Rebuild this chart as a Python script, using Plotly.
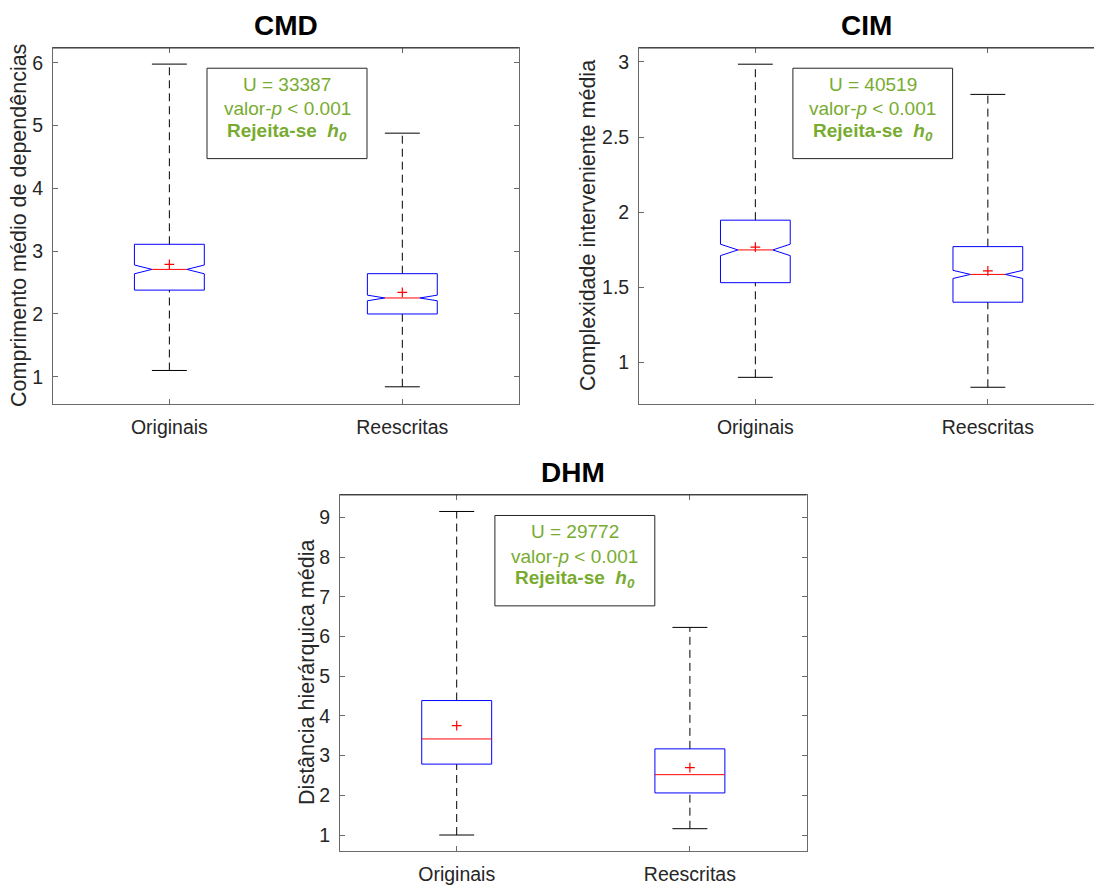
import plotly.graph_objects as go

# ---------------- data ----------------
categories = ["Originais", "Reescritas"]
panel_titles = ["CMD", "CIM", "DHM"]
y_labels = ["Comprimento médio de dependências",
            "Complexidade interveniente média",
            "Distância hierárquica média"]
u_stats = [33387, 40519, 29772]

cmd_whisker_hi = [5.98, 4.88]
cmd_q3 = [3.11, 2.642]
cmd_median = [2.71, 2.255]
cmd_q1 = [2.38, 2.00]
cmd_whisker_lo = [1.10, 0.84]
cmd_mean = [2.79, 2.345]
cmd_notch = [0.07, 0.045]

cim_whisker_hi = [2.985, 2.784]
cim_q3 = [1.947, 1.771]
cim_median = [1.749, 1.586]
cim_q1 = [1.531, 1.401]
cim_whisker_lo = [0.901, 0.835]
cim_mean = [1.767, 1.610]
cim_notch = [0.038, 0.027]

dhm_whisker_hi = [9.15, 6.23]
dhm_q3 = [4.387, 3.17]
dhm_median = [3.42, 2.52]
dhm_q1 = [2.786, 2.06]
dhm_whisker_lo = [1.00, 1.159]
dhm_mean = [3.753, 2.695]
dhm_notch = [None, None]

cmd_ticks = [1, 2, 3, 4, 5, 6]
cim_ticks = [1, 1.5, 2, 2.5, 3]
dhm_ticks = [1, 2, 3, 4, 5, 6, 7, 8, 9]

panels = [
    dict(whi=cmd_whisker_hi, q3=cmd_q3, med=cmd_median, q1=cmd_q1, wlo=cmd_whisker_lo,
         mean=cmd_mean, notch=cmd_notch, ticks=cmd_ticks),
    dict(whi=cim_whisker_hi, q3=cim_q3, med=cim_median, q1=cim_q1, wlo=cim_whisker_lo,
         mean=cim_mean, notch=cim_notch, ticks=cim_ticks),
    dict(whi=dhm_whisker_hi, q3=dhm_q3, med=dhm_median, q1=dhm_q1, wlo=dhm_whisker_lo,
         mean=dhm_mean, notch=dhm_notch, ticks=dhm_ticks),
]

# ---------------- layout geometry (pixels) ----------------
W, H = 1094, 885
def px(x): return x / W
def py(y): return 1 - y / H

geom = [
    dict(l=52.9, r=518.8, t=48.3, b=406.7, xr=[0.5, 2.5], yr=[0.567, 6.237],
         box=(207, 367, 68.7, 159.7), ylab_x=19, mirror_y=True),
    dict(l=639.1, r=1094, t=48.3, b=406.7, xr=[0.5, 0.5 + (1094 - 639.1) / 232.5],
         yr=[0.724, 3.093], box=(792.9, 952.6, 68.7, 159.7), ylab_x=588, mirror_y=False),
    dict(l=340.1, r=806.5, t=498.3, b=856.7, xr=[0.5, 2.5], yr=[0.6, 9.567],
         box=(494.9, 654.8, 519, 610), ylab_x=307, mirror_y=True),
]

BOXW = 0.30
CAPW = 0.15
AX = "#262626"
AXLINE = "#6a6a6a"
GREEN = "#77AC30"
FONT = "Liberation Sans, Arial, Helvetica, sans-serif"

fig = go.Figure()
shapes = []
annotations = []

for i, (p, g) in enumerate(zip(panels, geom)):
    sfx = "" if i == 0 else str(i + 1)
    xa, ya = "x" + sfx, "y" + sfx
    for j, cat in enumerate(categories):
        xc = j + 1
        hw = BOXW / 2
        q1, q3, med = p["q1"][j], p["q3"][j], p["med"][j]
        n = p["notch"][j]
        if n is not None:
            bx = [xc - hw, xc + hw, xc + hw, xc + hw / 2, xc + hw, xc + hw,
                  xc - hw, xc - hw, xc - hw / 2, xc - hw, xc - hw]
            by = [q1, q1, med - n, med, med + n, q3, q3, med + n, med, med - n, q1]
            mx = [xc - hw / 2, xc + hw / 2]
        else:
            bx = [xc - hw, xc + hw, xc + hw, xc - hw, xc - hw]
            by = [q1, q1, q3, q3, q1]
            mx = [xc - hw, xc + hw]
        # whiskers (dashed)
        fig.add_trace(go.Scatter(x=[xc, xc, None, xc, xc],
                                 y=[q3, p["whi"][j], None, p["wlo"][j], q1],
                                 mode="lines", xaxis=xa, yaxis=ya,
                                 line=dict(color="black", width=1, dash="8px,5px"),
                                 hoverinfo="skip", showlegend=False))
        # caps
        fig.add_trace(go.Scatter(x=[xc - CAPW / 2, xc + CAPW / 2, None, xc - CAPW / 2, xc + CAPW / 2],
                                 y=[p["whi"][j], p["whi"][j], None, p["wlo"][j], p["wlo"][j]],
                                 mode="lines", xaxis=xa, yaxis=ya,
                                 line=dict(color="black", width=1),
                                 hoverinfo="skip", showlegend=False))
        # box
        fig.add_trace(go.Scatter(x=bx, y=by, mode="lines", xaxis=xa, yaxis=ya,
                                 line=dict(color="#0000FF", width=1),
                                 hoverinfo="skip", showlegend=False))
        # median
        fig.add_trace(go.Scatter(x=mx, y=[med, med], mode="lines", xaxis=xa, yaxis=ya,
                                 line=dict(color="#FF0000", width=1),
                                 hoverinfo="skip", showlegend=False))
        # mean
        fig.add_trace(go.Scatter(x=[xc], y=[p["mean"][j]], mode="markers", xaxis=xa, yaxis=ya,
                                 marker=dict(symbol="cross-thin", size=7,
                                             line=dict(color="#FF0000", width=1.2)),
                                 hoverinfo="skip", showlegend=False))

    common = dict(showline=True, linecolor=AXLINE, linewidth=1, ticks="inside", ticklen=5,
                  tickcolor=AXLINE, tickwidth=1, showgrid=False, zeroline=False,
                  tickfont=dict(family=FONT, size=19.5, color=AX))
    fig.layout["xaxis" + sfx] = dict(
        domain=[px(g["l"]), px(g["r"])], range=g["xr"], anchor=ya,
        tickvals=[1, 2], ticktext=categories, mirror="ticks", ticklabelstandoff=6, **common)
    fig.layout["yaxis" + sfx] = dict(
        domain=[py(g["b"]), py(g["t"])], range=g["yr"], anchor=xa,
        tickvals=p["ticks"], ticktext=[f"{t:g}" for t in p["ticks"]],
        mirror="ticks" if g["mirror_y"] else False, ticklabelstandoff=5, **common)

    # darker top border (as in reference)
    shapes.append(dict(type="line", xref="paper", yref="paper",
                       x0=px(g["l"]), x1=px(g["r"]), y0=py(g["t"]), y1=py(g["t"]),
                       line=dict(color=AX, width=1), layer="above"))

    # title
    annotations.append(dict(text=f"<b>{panel_titles[i]}</b>", xref="paper", yref="paper",
                            x=px((g["l"] + min(g["r"], g["l"] + 465.9)) / 2), y=py(g["t"] - 23),
                            xanchor="center", yanchor="middle", showarrow=False,
                            font=dict(family=FONT, size=28, color="black")))
    # y label
    annotations.append(dict(text=y_labels[i], xref="paper", yref="paper",
                            x=px(g["ylab_x"]), y=py((g["t"] + g["b"]) / 2), textangle=-90,
                            xanchor="center", yanchor="middle", showarrow=False,
                            font=dict(family=FONT, size=21.5, color=AX)))
    # stats box
    x0, x1, y0, y1 = g["box"]
    shapes.append(dict(type="rect", xref="paper", yref="paper",
                       x0=px(x0), x1=px(x1), y0=py(y1), y1=py(y0),
                       line=dict(color=AX, width=1), fillcolor="white", layer="above"))
    cx = px((x0 + x1) / 2)
    lines = [f"U = {u_stats[i]}", "valor-<i>p</i> &lt; 0.001",
             "<b>Rejeita-se  <i>h<sub>0</sub></i></b>"]
    offs = [16.5, 41, 64]
    for k, (txt, o) in enumerate(zip(lines, offs)):
        annotations.append(dict(text=txt, xref="paper", yref="paper", x=cx, y=py(y0 + o),
                                xanchor="center", yanchor="middle", showarrow=False,
                                font=dict(family=FONT, size=19, color=GREEN)))

fig.update_layout(width=W, height=H, margin=dict(l=0, r=0, t=0, b=0),
                  paper_bgcolor="white", plot_bgcolor="white",
                  shapes=shapes, annotations=annotations, showlegend=False)

fig.write_html("out.html")
